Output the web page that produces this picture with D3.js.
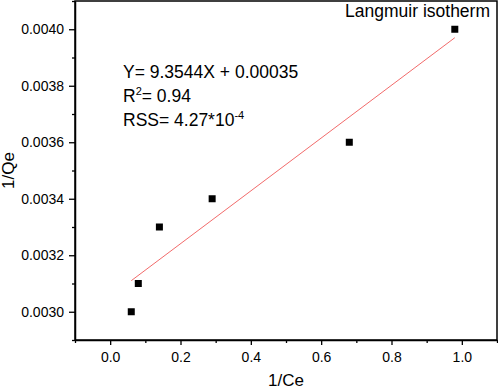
<!DOCTYPE html>
<html lang="en">
<head>
    <meta charset="UTF-8">
    <title>Langmuir isotherm</title>
    <script src="https://d3js.org/d3.v7.min.js"></script>
    <style>
        body { margin: 0; background: #fff; font-family: "Liberation Sans", Arial, sans-serif; }
    </style>
</head>
<body>
    <div id="chart"></div>
    <script>
        // measured points
        const invCe = [0.06, 0.08, 0.14, 0.29, 0.68, 0.98];
        const invQe = [0.0030, 0.0031, 0.0033, 0.0034, 0.0036, 0.0040];
        // fitted line end points
        const fitX = [0.06, 0.98];
        const fitY = [0.00311, 0.00397];
        const xTicks = [0.0, 0.2, 0.4, 0.6, 0.8, 1.0];
        const yTicks = [0.0030, 0.0032, 0.0034, 0.0036, 0.0038, 0.0040];
        const xMinor = [-0.1, 0.1, 0.3, 0.5, 0.7, 0.9, 1.1];
        const yMinor = [0.0029, 0.0031, 0.0033, 0.0035, 0.0037, 0.0039, 0.0041];

        const width = 498, height = 390;
        const plotL = 75, plotR = 497, plotT = 1, plotB = 340;

        const svg = d3.select("#chart").append("svg")
            .attr("width", width)
            .attr("height", height);

        const x = d3.scaleLinear().domain([-0.1, 1.1]).range([plotL, plotR]);
        const y = d3.scaleLinear().domain([0.0029, 0.0041]).range([plotB, plotT]);

        // frame
        svg.append("rect")
            .attr("x", plotL).attr("y", plotT)
            .attr("width", plotR - plotL).attr("height", plotB - plotT)
            .attr("fill", "none").attr("stroke", "#000").attr("stroke-width", 1.5);

        // x axis
        const xAxis = svg.append("g").attr("transform", `translate(0,${plotB})`)
            .call(d3.axisBottom(x).tickValues(xTicks).tickFormat(d3.format(".1f")).tickSize(5).tickSizeOuter(0));
        svg.append("g").attr("transform", `translate(0,${plotB})`)
            .call(d3.axisBottom(x).tickValues(xMinor).tickFormat("").tickSize(3).tickSizeOuter(0))
            .call(g => g.select(".domain").remove());

        // y axis
        const yAxis = svg.append("g").attr("transform", `translate(${plotL},0)`)
            .call(d3.axisLeft(y).tickValues(yTicks).tickFormat(d3.format(".4f")).tickSize(6).tickSizeOuter(0));
        svg.append("g").attr("transform", `translate(${plotL},0)`)
            .call(d3.axisLeft(y).tickValues(yMinor).tickFormat("").tickSize(3).tickSizeOuter(0))
            .call(g => g.select(".domain").remove());

        svg.selectAll(".tick line").attr("stroke-width", 1.3);
        svg.selectAll(".domain").attr("stroke-width", 1.5);
        xAxis.selectAll("text").attr("font-size", 14).attr("font-family", "Liberation Sans").attr("dy", "0.9em").attr("y", 9);
        yAxis.selectAll("text").attr("font-size", 14).attr("font-family", "Liberation Sans").attr("x", -11);

        // axis titles
        svg.append("text")
            .attr("x", (plotL + plotR) / 2).attr("y", 386)
            .attr("text-anchor", "middle").attr("font-size", 17)
            .text("1/Ce");
        svg.append("text")
            .attr("transform", `translate(14,${(plotT + plotB) / 2}) rotate(-90)`)
            .attr("text-anchor", "middle").attr("font-size", 17)
            .text("1/Qe");

        // fit line
        svg.append("line")
            .attr("x1", x(fitX[0])).attr("y1", y(fitY[0]))
            .attr("x2", x(fitX[1])).attr("y2", y(fitY[1]))
            .attr("stroke", "#f26b6b").attr("stroke-width", 1);

        // points
        const s = 7;
        svg.selectAll(".pt")
            .data(invCe)
            .join("rect")
            .attr("x", d => x(d) - s / 2)
            .attr("y", (d, i) => y(invQe[i]) - s / 2)
            .attr("width", s).attr("height", s)
            .attr("fill", "#000");

        // annotations
        svg.append("text")
            .attr("x", 490).attr("y", 17)
            .attr("text-anchor", "end").attr("font-size", 17.5)
            .text("Langmuir isotherm");

        const ann = svg.append("g").attr("font-size", 17.5);
        ann.append("text").attr("x", 123).attr("y", 78).text("Y= 9.3544X + 0.00035");
        const r2 = ann.append("text").attr("x", 123).attr("y", 102);
        r2.append("tspan").text("R");
        r2.append("tspan").attr("font-size", 11).attr("dy", -7).text("2");
        r2.append("tspan").attr("dy", 7).text("= 0.94");
        const rss = ann.append("text").attr("x", 123).attr("y", 126);
        rss.append("tspan").text("RSS= 4.27*10");
        rss.append("tspan").attr("font-size", 11).attr("dy", -7).text("-4");
    </script>
</body>
</html>
